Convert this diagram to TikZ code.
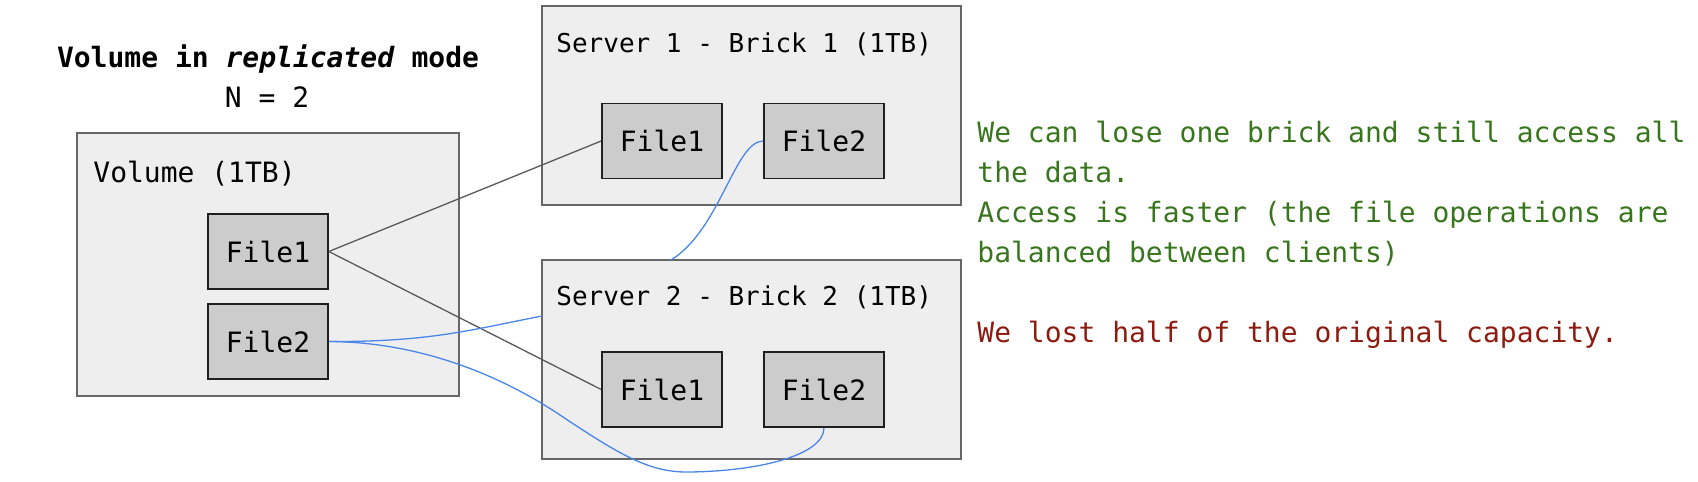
\documentclass[tikz,border=0pt]{standalone}
\usepackage{fontspec}
\setmainfont{DejaVu Sans Mono}
\usetikzlibrary{calc}
\definecolor{boxfill}{HTML}{EEEEEE}
\definecolor{boxline}{HTML}{666666}
\definecolor{filefill}{HTML}{CCCCCC}
\definecolor{fileline}{HTML}{1F1F1F}
\definecolor{conngray}{HTML}{595959}
\definecolor{connblue}{HTML}{4A86E8}
\definecolor{txtgreen}{HTML}{38761D}
\definecolor{txtred}{HTML}{8E1B10}
\begin{document}
\begin{tikzpicture}[x=0.5pt,y=-0.5pt,
  font=\fontsize{14pt}{20pt}\selectfont,
  container/.style={draw=boxline, fill=boxfill, line width=1pt, inner sep=0pt},
  filebox/.style={draw=fileline, fill=filefill, line width=0.8pt, minimum width=60pt, minimum height=37.5pt, inner sep=0pt},
  gline/.style={draw=conngray, line width=0.65pt},
  bline/.style={draw=connblue, line width=0.65pt},
  lbl/.style={anchor=base west, inner sep=0pt},
  srvlbl/.style={lbl, font=\fontsize{13pt}{16pt}\selectfont},
  note/.style={lbl, text=txtgreen},
  warn/.style={lbl, text=txtred}]
\useasboundingbox (0,0) rectangle (1698,482);
% containers
\node[container, minimum width=191pt, minimum height=131.5pt] (vol) at (268,264.5) {};
\node[container, minimum width=209.5pt, minimum height=99.5pt] (s1) at (751.5,105.5) {};
\node[container, minimum width=209.5pt, minimum height=99.5pt] (s2) at (751.5,359.5) {};
% titles
\node[anchor=base, inner sep=0pt] (title) at (268,67) {\bfseries Volume in \textit{replicated} mode};
\node[anchor=base, inner sep=0pt] (nlbl) at (267,107) {N = 2};
\node[lbl] (vollbl) at (93,182) {Volume (1TB)};
\node[srvlbl] (s1lbl) at (556,53) {Server 1 - Brick 1 (1TB)};
\node[srvlbl] (s2lbl) at (556,305) {Server 2 - Brick 2 (1TB)};
% files
\node[filebox] (vf1) at (268,251.5) {File1};
\node[filebox] (vf2) at (268,341.5) {File2};
\node[filebox] (s1f1) at (662,141) {File1};
\node[filebox] (s1f2) at (824,141) {File2};
\node[filebox] (s2f1) at (662,389.5) {File1};
\node[filebox] (s2f2) at (824,389.5) {File2};
% notes
\node[note] (g1) at (977,142) {We can lose one brick and still access all};
\node[note] (g2) at (977,182) {the data.};
\node[note] (g3) at (977,222) {Access is faster (the file operations are};
\node[note] (g4) at (977,262) {balanced between clients)};
\node[warn] (r1) at (977,342) {We lost half of the original capacity.};
% connectors
\coordinate (s2in) at (542,316);
\coordinate (s2top) at (671,260);
\draw[gline] (vf1.east) -- (s1f1.west);
\draw[gline] (vf1.east) -- (s2f1.west);
\draw[bline] (vf2.east) .. controls (430,342) and (470,330) .. (s2in);
\draw[bline] (s1f2.west) .. controls (735,141) and (720,230) .. (s2top);
\draw[bline] (vf2.east) .. controls (420,342) and (500,375) .. (560,415) .. controls (620,455) and (650,473) .. (690,472) .. controls (760,471) and (824,455) .. (s2f2.south);
\end{tikzpicture}
\end{document}
